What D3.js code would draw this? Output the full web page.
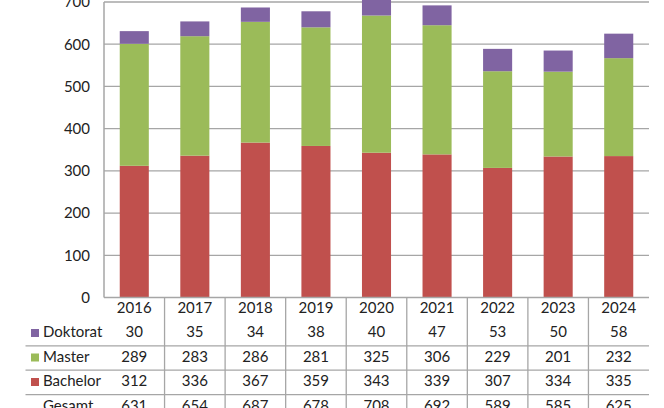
<!DOCTYPE html>
<html><head><meta charset="utf-8">
<script src="https://cdn.jsdelivr.net/npm/d3@7"></script>
<style>html,body{margin:0;padding:0;background:#fff;overflow:hidden}</style>
</head><body>
<svg id="c" width="664" height="408"></svg>
<script>
const years = ["2016","2017","2018","2019","2020","2021","2022","2023","2024"];
const bachelor = [312,336,367,359,343,339,307,334,335];
const master = [289,283,286,281,325,306,229,201,232];
const doktorat = [30,35,34,38,40,47,53,50,58];
const gesamt = [631,654,687,678,708,692,589,585,625];
const yTicks = [0,100,200,300,400,500,600,700];
const seriesNames = ["Bachelor","Master","Doktorat"];
const colors = {Bachelor:"#C0504D", Master:"#9BBB59", Doktorat:"#8064A2"};

const svg = d3.select("#c");
const font = "Lato, 'Open Sans', sans-serif";
const x0 = 104, x1 = 649, yZero = 297.5, yTop = 2;
const x = d3.scaleBand().domain(years).range([x0, x1]).paddingInner(0.52).paddingOuter(0.26);
const xb = d3.scaleBand().domain(years).range([x0, x1]);
const y = d3.scaleLinear().domain([0,700]).range([yZero, yTop]);

// gridlines
svg.append("g").selectAll("line").data(yTicks.filter(d=>d>0)).join("line")
  .attr("x1", x0).attr("x2", x1).attr("y1", d=>y(d)).attr("y2", d=>y(d))
  .attr("stroke", "#a6a6a6").attr("stroke-width", 1.3);

// y axis labels
const yAxis = d3.axisLeft(y).tickValues(yTicks).tickSize(0).tickPadding(14);
const ga = svg.append("g").attr("transform", `translate(${x0},0)`).call(yAxis);
ga.select(".domain").remove();
ga.selectAll("text").attr("font-family", font).attr("font-size", 15).attr("fill", "#222");

// stacked bars
const rows = years.map((yr,i)=>({year:yr, Bachelor:bachelor[i], Master:master[i], Doktorat:doktorat[i]}));
const stack = d3.stack().keys(seriesNames)(rows);
svg.append("g").selectAll("g").data(stack).join("g").attr("fill", d=>colors[d.key])
  .selectAll("rect").data(d=>d).join("rect")
  .attr("x", d=>x(d.data.year)).attr("width", x.bandwidth())
  .attr("y", d=>y(d[1])).attr("height", d=>y(d[0]) - y(d[1]));

// axes lines
svg.append("line").attr("x1", x0).attr("x2", x0).attr("y1", yTop).attr("y2", yZero)
  .attr("stroke", "#a6a6a6").attr("stroke-width", 1.5);
svg.append("line").attr("x1", x0).attr("x2", x1).attr("y1", yZero).attr("y2", yZero)
  .attr("stroke", "#a6a6a6").attr("stroke-width", 1.5);

// data table
const tableLeft = 25.5;
const rowY = {header:309, Doktorat:333.5, Master:358, Bachelor:382.5, Gesamt:407};
const sepY = [345.8, 370.2, 394.7];
svg.append("g").selectAll("line").data(sepY).join("line")
  .attr("x1", tableLeft).attr("x2", x1).attr("y1", d=>d).attr("y2", d=>d)
  .attr("stroke", "#a6a6a6").attr("stroke-width", 1.3);
svg.append("g").selectAll("line").data(years.slice(1)).join("line")
  .attr("x1", d=>xb(d)).attr("x2", d=>xb(d)).attr("y1", yZero).attr("y2", 408)
  .attr("stroke", "#a6a6a6").attr("stroke-width", 1.3);

const txt = (g, t, xx, yy, anchor) => g.append("text").attr("x", xx).attr("y", yy)
  .attr("text-anchor", anchor).attr("dominant-baseline", "middle")
  .attr("font-family", font).attr("font-size", 15).attr("fill", "#222").text(t);

const tg = svg.append("g");
years.forEach(yr => txt(tg, yr, xb(yr) + xb.bandwidth()/2, rowY.header, "middle"));
const tableRows = [["Doktorat", doktorat],["Master", master],["Bachelor", bachelor],["Gesamt", gesamt]];
tableRows.forEach(([name, vals]) => {
  vals.forEach((v,i) => txt(tg, String(v), xb(years[i]) + xb.bandwidth()/2, rowY[name], "middle"));
  if (colors[name]) {
    tg.append("rect").attr("x", 31).attr("y", rowY[name]-4.5).attr("width", 8).attr("height", 8).attr("fill", colors[name]);
  }
  txt(tg, name, 43, rowY[name], "start");
});
</script>
</body></html>
